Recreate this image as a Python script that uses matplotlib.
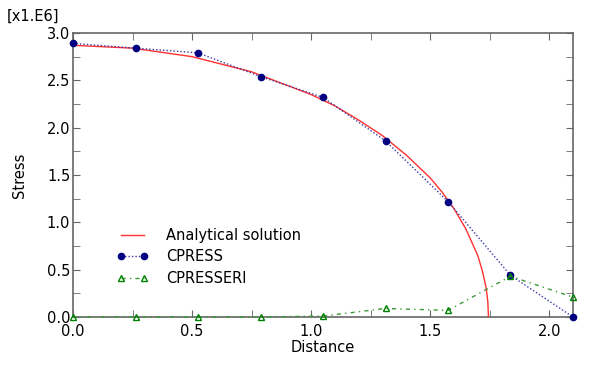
import matplotlib
matplotlib.use("Agg")
import matplotlib.pyplot as plt
from matplotlib.ticker import MultipleLocator, FormatStrFormatter

# Data (stress in units of 1e6)
x_nodes = [0.0, 0.2625, 0.525, 0.7875, 1.05, 1.3125, 1.575, 1.8375, 2.1]
cpress = [2.89, 2.84, 2.79, 2.54, 2.32, 1.86, 1.22, 0.44, 0.0]
cpresseri = [0.0, 0.0, 0.0, 0.0, 0.01, 0.09, 0.07, 0.43, 0.21]

x_analytic = [0.0, 0.25, 0.5, 0.75, 1.0, 1.1, 1.2, 1.3, 1.4, 1.5, 1.55, 1.6,
              1.65, 1.7, 1.72, 1.735, 1.742, 1.745]
y_analytic = [2.87, 2.84, 2.75, 2.59, 2.35, 2.23, 2.08, 1.915, 1.71, 1.47, 1.32,
              1.145, 0.93, 0.65, 0.48, 0.31, 0.17, 0.0]

plt.rcParams['font.family'] = ['DejaVu Sans']
fig = plt.figure(figsize=(6.02, 3.67), dpi=100)
ax = fig.add_axes([73/602, 1-317/367, 500/602, 284/367])

ax.plot(x_analytic, y_analytic, color='#ff3030', lw=1.0, label='Analytical solution', zorder=3)
ax.plot(x_nodes, cpress, color='#3a3aa8', ls=(0, (1, 1.5)), lw=1.0,
        marker='o', ms=4.5, mfc='#000080', mec='#000080', label='CPRESS', zorder=4, clip_on=False)
ax.plot(x_nodes, cpresseri, color='#3a9a3a', ls=(0, (3, 3, 1, 3)), lw=1.0,
        marker='^', ms=4.5, mfc='none', mec='#008000', label='CPRESSERI', zorder=5, clip_on=False)

ax.set_xlim(0, 2.1)
ax.set_ylim(0, 3.0)
ax.xaxis.set_major_locator(MultipleLocator(0.5))
ax.xaxis.set_minor_locator(MultipleLocator(0.25))
ax.yaxis.set_major_locator(MultipleLocator(0.5))
ax.yaxis.set_minor_locator(MultipleLocator(0.25))
ax.xaxis.set_major_formatter(FormatStrFormatter('%.1f'))
ax.yaxis.set_major_formatter(FormatStrFormatter('%.1f'))
ax.tick_params(which='both', direction='in', top=True, right=True, length=5,
               color='#666666', labelsize=10.5, pad=2)
ax.tick_params(axis='x', pad=5)
for s in ax.spines.values():
    s.set_color('#666666')
    s.set_linewidth(1.2)

ax.set_xlabel('Distance', fontsize=10.5, labelpad=1)
ax.set_ylabel('Stress', fontsize=10.5, labelpad=14)
fig.text(7/602, 1-16/367, '[x1.E6]', fontsize=10.5, va='center', ha='left')

leg = ax.legend(loc='upper left', bbox_to_anchor=(0.06, 0.36), frameon=False,
                fontsize=10.5, handlelength=2.2, handletextpad=1.2, labelspacing=0.45,
                numpoints=2)

fig.savefig('out.png', dpi=100)
